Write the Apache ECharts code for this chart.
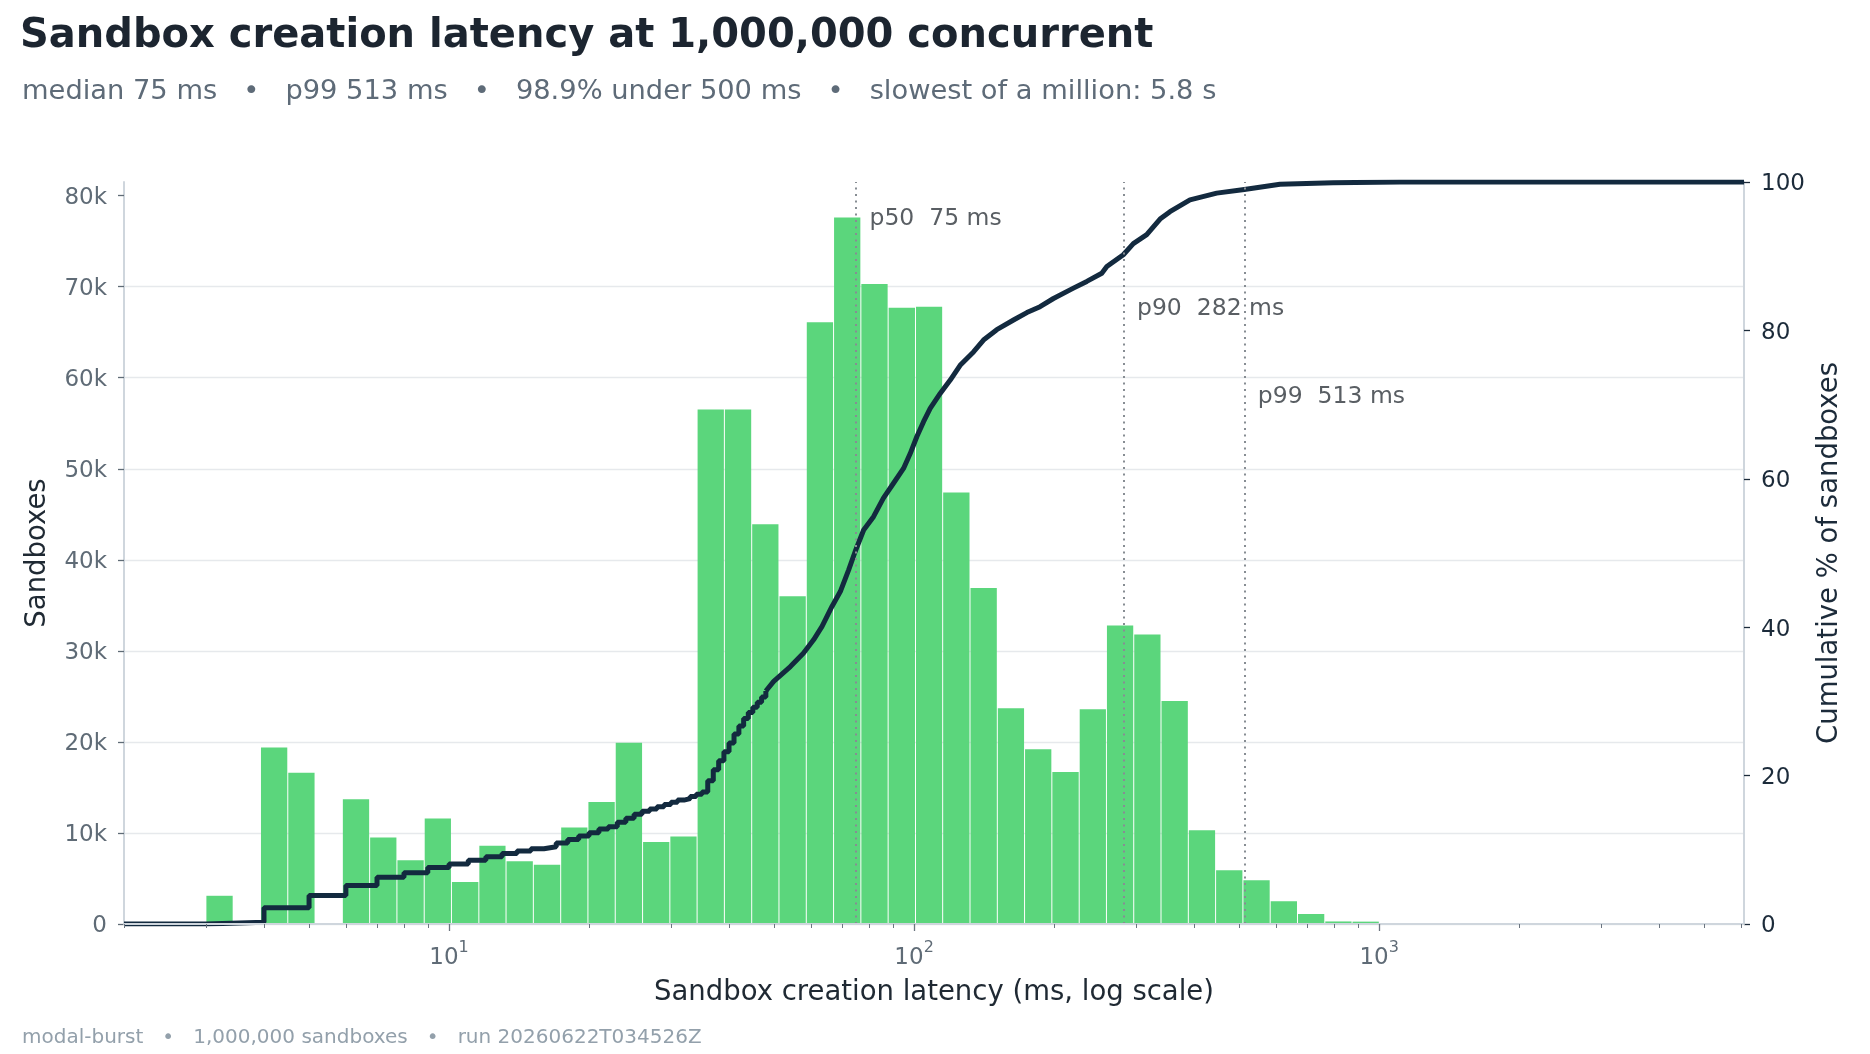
<!DOCTYPE html>
<html>
<head>
<meta charset="utf-8">
<title>Sandbox creation latency</title>
<script src="https://cdn.jsdelivr.net/npm/echarts@6/dist/echarts.min.js"></script>
<style>
    html, body { margin: 0; padding: 0; background: #fff; }
    #chart { width: 1870px; height: 1054px; }
</style>
</head>
<body>
<div id="chart"></div>
<script>
// histogram bin edges (ms), log spaced 3 ms .. 5.8 s
const binEdges = [
    3.0, 3.434, 3.931, 4.5, 5.151, 5.896, 6.749, 7.725, 8.843, 10.12,
    11.59, 13.26, 15.18, 17.38, 19.89, 22.77, 26.07, 29.84, 34.15, 39.09,
    44.75, 51.22, 58.64, 67.12, 76.83, 87.94, 100.7, 115.2, 131.9, 151.0,
    172.8, 197.8, 226.5, 259.2, 296.7, 339.6, 388.8, 445.0, 509.4, 583.1,
    667.5, 764.1, 874.6, 1001, 1146, 1312, 1502, 1719, 1967, 2252,
    2578, 2951, 3378, 3866, 4426, 5066, 5800
];
// sandboxes per bin
const binCounts = [
    3100, 0, 19400, 16600, 0, 13700, 9500, 7000, 11600, 4600,
    8600, 6900, 6500, 10600, 13400, 19900, 9000, 9600, 56500, 56500,
    43900, 36000, 66100, 77600, 70300, 67700, 67800, 47400, 36900, 23700,
    19200, 16700, 23600, 32800, 31800, 24500, 10300, 5900, 4800, 2500,
    1100, 280, 260, 90, 50, 30, 20, 12, 8, 5,
    3, 2, 1, 1, 0, 1
];
// cumulative % -- whole-millisecond region (drawn as steps)
const cdfSteps = [
    [2, 0], [3, 0.25], [4, 2.2], [5, 3.85], [6, 5.2], [7, 6.3], [8, 6.9], [9, 7.6],
    [10, 8.1], [11, 8.6], [12, 9.05], [13, 9.5], [14, 9.85], [15, 10.15], [16, 10.4],
    [17, 10.9], [18, 11.4], [19, 11.85], [20, 12.3], [21, 12.8], [22, 13.1], [23, 13.7],
    [24, 14.25], [25, 14.8], [26, 15.2], [27, 15.5], [28, 15.8], [29, 16.1], [30, 16.4],
    [31, 16.7], [32, 16.9], [33, 17.2], [34, 17.5], [35, 17.8], [36, 19.3], [37, 20.8],
    [38, 22.0], [39, 23.2], [40, 24.4], [41, 25.6], [42, 26.7], [43, 27.7], [44, 28.5],
    [45, 29.2], [46, 29.9], [47, 30.6], [48, 31.4]
];
// cumulative % -- upper region
const cdfCurve = [
    [48, 31.4], [49.9, 32.7], [54.2, 34.7], [57.8, 36.5], [60.8, 38.3], [63.4, 40.1],
    [66.6, 42.8], [69.4, 44.8], [72.3, 47.7], [74.7, 50.2], [77.9, 53.1], [81.8, 54.9],
    [85.9, 57.4], [90.3, 59.4], [94.9, 61.4], [98.1, 63.4], [101.4, 65.7], [104.8, 67.7],
    [108.3, 69.5], [113.8, 71.5], [119.6, 73.3], [125.6, 75.3], [134.2, 77.1], [141, 78.7],
    [150.6, 80.1], [163.6, 81.4], [174.8, 82.4], [186.6, 83.2], [199.4, 84.3], [220.1, 85.7],
    [235.2, 86.6], [253.3, 87.7], [259.7, 88.6], [281.8, 90.2], [296.1, 91.7], [316.4, 92.9],
    [338, 95.0], [355, 96.0], [392, 97.6], [447.5, 98.5], [513, 99.0], [612, 99.7],
    [796, 99.9], [1108, 100], [6090, 100]
];
const pctNames = ['p50', 'p90', 'p99'];
const pctValues = [75, 282, 513];
const yTicks = [0, 10000, 20000, 30000, 40000, 50000, 60000, 70000, 80000];
const xMajorTicks = [10, 100, 1000];
const xMinorTicks = [
    2, 3, 4, 5, 6, 7, 8, 9,
    20, 30, 40, 50, 60, 70, 80, 90,
    200, 300, 400, 500, 600, 700, 800, 900,
    2000, 3000, 4000, 5000, 6000
];

// layout / style
const FONT = '"DejaVu Sans", sans-serif';
const GREEN = '#5bd67c';
const NAVY = '#132a3f';
const SPINE = '#cfd6dd';
const GREY_TXT = '#5f6b76';
const RIGHT_TXT = '#1c2b3a';
const PCT_LABEL_Y = [95.0, 82.9, 71.0]; // where the percentile labels sit (right axis %)

function renderBin(params, api) {
    const count = api.value(2);
    if (!count) {
        return null;
    }
    const topLeft = api.coord([api.value(0), count]);
    const bottomRight = api.coord([api.value(1), 0]);
    return {
        type: 'rect',
        shape: {
            x: topLeft[0] + 0.5,
            y: topLeft[1],
            width: bottomRight[0] - topLeft[0] - 1,
            height: bottomRight[1] - topLeft[1]
        },
        style: { fill: GREEN }
    };
}

const barData = binCounts.map((n, i) => [binEdges[i], binEdges[i + 1], n]);
const labelData = pctValues.map((v, i) => ({
    name: pctNames[i] + '  ' + v + ' ms',
    value: [v, PCT_LABEL_Y[i]]
}));

const chart = echarts.init(document.getElementById('chart'));

chart.setOption({
    backgroundColor: '#fff',
    animation: false,
    textStyle: { fontFamily: FONT },
    title: [
        {
            text: 'Sandbox creation latency at 1,000,000 concurrent',
            left: 20, top: 17, padding: 0,
            textStyle: { fontFamily: FONT, fontSize: 40, fontWeight: 'bold', color: '#1c2530' }
        },
        {
            text: 'median 75 ms   \u2022   p99 513 ms   \u2022   98.9% under 500 ms   \u2022   slowest of a million: 5.8 s',
            left: 22, top: 78, padding: 0,
            textStyle: { fontFamily: FONT, fontSize: 27.3, fontWeight: 'normal', color: '#5e6b78' }
        },
        {
            text: 'modal-burst   \u2022   1,000,000 sandboxes   \u2022   run 20260622T034526Z',
            left: 22, top: 1028, padding: 0,
            textStyle: { fontFamily: FONT, fontSize: 20, fontWeight: 'normal', color: '#93a0ab' }
        }
    ],
    grid: { left: 124, top: 182, width: 1620, height: 742 },
    xAxis: [
        {
            type: 'log', logBase: 10, min: 2, max: 6090, position: 'bottom', z: 5,
            name: 'Sandbox creation latency (ms, log scale)',
            nameLocation: 'middle', nameGap: 55,
            nameTextStyle: { fontFamily: FONT, fontSize: 27.5, color: '#1f2933' },
            axisLine: { show: true, lineStyle: { color: SPINE, width: 2 } },
            axisTick: { show: true, customValues: xMajorTicks, length: 7, lineStyle: { color: '#6b7580', width: 1.3 } },
            axisLabel: {
                customValues: xMajorTicks,
                formatter: v => '{b|10}{s|' + Math.round(Math.log10(v)) + '}',
                margin: 16,
                rich: {
                    b: { fontFamily: FONT, fontSize: 23, color: GREY_TXT, lineHeight: 30, verticalAlign: 'bottom' },
                    s: { fontFamily: FONT, fontSize: 16, color: GREY_TXT, lineHeight: 16, verticalAlign: 'top' }
                }
            },
            splitLine: { show: false },
            minorTick: { show: false }
        },
        {
            type: 'log', logBase: 10, min: 2, max: 6090, position: 'bottom', z: 5,
            axisLine: { show: false },
            axisTick: { show: true, customValues: xMinorTicks, length: 4, lineStyle: { color: '#6b7580', width: 1 } },
            axisLabel: { show: false },
            splitLine: { show: false }
        }
    ],
    yAxis: [
        {
            type: 'value', min: 0, max: 81500, interval: 10000, position: 'left',
            name: 'Sandboxes', nameLocation: 'middle', nameGap: 72, nameRotate: 90,
            nameTextStyle: { fontFamily: FONT, fontSize: 27.5, color: '#1f2933' },
            axisLine: { show: true, lineStyle: { color: SPINE, width: 2 } },
            axisTick: { show: true, customValues: yTicks, length: 6, lineStyle: { color: GREY_TXT, width: 1.3 } },
            axisLabel: {
                customValues: yTicks,
                formatter: v => '{t|' + (v === 0 ? '0' : v / 1000 + 'k') + '}',
                margin: 17,
                rich: {
                    t: { fontFamily: FONT, fontSize: 23, color: GREY_TXT, padding: [5, 0, 0, 0] }
                }
            },
            splitLine: { show: true, showMaxLine: false, lineStyle: { color: '#e6e9ec', width: 1.3 } }
        },
        {
            type: 'value', min: 0, max: 100, interval: 20, position: 'right',
            name: 'Cumulative % of sandboxes', nameLocation: 'middle', nameGap: 69, nameRotate: 90,
            nameTextStyle: { fontFamily: FONT, fontSize: 27.5, color: RIGHT_TXT },
            axisLine: { show: true, lineStyle: { color: SPINE, width: 2 } },
            axisTick: { show: true, length: 6, lineStyle: { color: RIGHT_TXT, width: 1.3 } },
            axisLabel: {
                formatter: v => '{t|' + v + '}',
                margin: 17,
                rich: {
                    t: { fontFamily: FONT, fontSize: 23, color: RIGHT_TXT, padding: [5, 0, 0, 0] }
                }
            },
            splitLine: { show: false }
        }
    ],
    series: [
        {
            type: 'custom',
            name: 'bins',
            xAxisIndex: 0,
            yAxisIndex: 0,
            renderItem: renderBin,
            encode: { x: [0, 1], y: 2 },
            data: barData,
            clip: true,
            silent: true,
            z: 2
        },
        {
            type: 'line',
            name: 'cdfSteps',
            xAxisIndex: 0,
            yAxisIndex: 1,
            data: cdfSteps,
            step: 'end',
            symbol: 'none',
            lineStyle: { color: NAVY, width: 5 },
            silent: true,
            z: 4
        },
        {
            type: 'line',
            name: 'cdfCurve',
            xAxisIndex: 0,
            yAxisIndex: 1,
            data: cdfCurve,
            symbol: 'none',
            lineStyle: { color: NAVY, width: 5, join: 'round' },
            silent: true,
            z: 4
        },
        {
            type: 'scatter',
            name: 'percentiles',
            xAxisIndex: 0,
            yAxisIndex: 1,
            data: labelData,
            symbolSize: 1,
            itemStyle: { color: 'rgba(0,0,0,0)' },
            label: {
                show: true, position: 'right', distance: 13, formatter: '{b}',
                fontFamily: FONT, fontSize: 23.5, color: '#30363c'
            },
            markLine: {
                silent: true,
                symbol: 'none',
                label: { show: false },
                lineStyle: { color: '#878d93', type: [2, 4.5], width: 2 },
                data: pctValues.map(v => ({ xAxis: v }))
            },
            silent: true,
            z: 3
        }
    ]
});
</script>
</body>
</html>
